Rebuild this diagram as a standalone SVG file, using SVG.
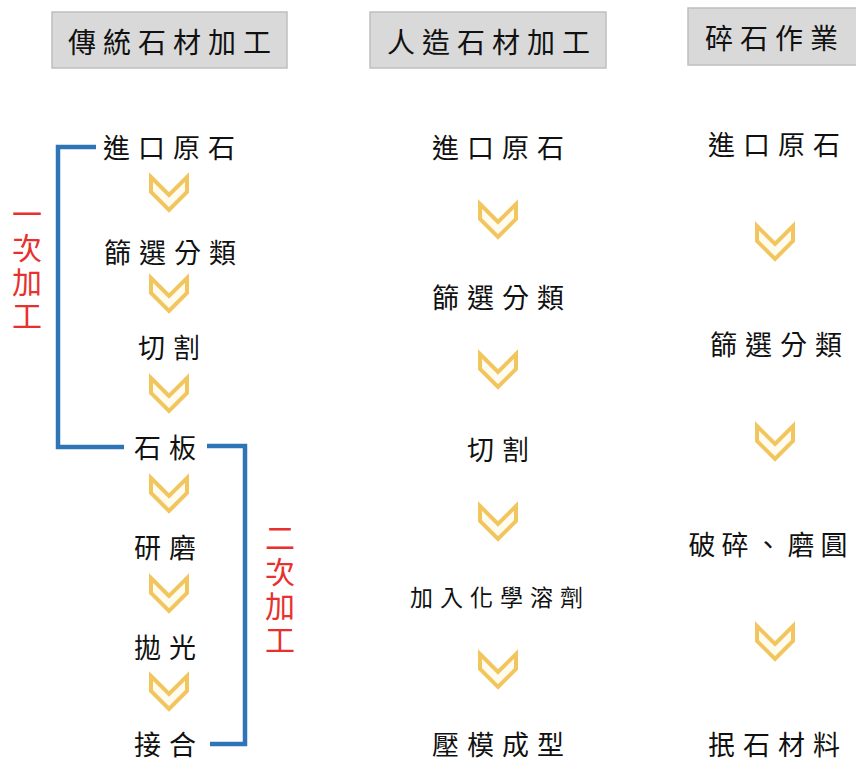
<svg xmlns="http://www.w3.org/2000/svg" width="856" height="761" viewBox="0 0 856 761">
<defs>
<style>
.hdr{fill:#d9d9d9;stroke:#bfbfbf;stroke-width:1.5}
.ht{font-family:"Noto Sans CJK TC","Noto Sans CJK SC",sans-serif;font-size:28px;fill:#111;text-anchor:middle;dominant-baseline:central;letter-spacing:7px}
.t{font-family:"Noto Sans CJK TC","Noto Sans CJK SC",sans-serif;font-size:27px;fill:#111;text-anchor:middle;dominant-baseline:central;letter-spacing:8px}
.ts{font-size:23px;letter-spacing:7px}
.tn{letter-spacing:6px}
.red{font-family:"Noto Sans CJK TC","Noto Sans CJK SC",sans-serif;font-size:30px;fill:#e8312f;writing-mode:vertical-rl;text-anchor:start;letter-spacing:4px}
.br{fill:none;stroke:#2e75b6;stroke-width:4.5}
.chev{fill:#fffbef;stroke:#f2c65e;stroke-width:4;stroke-linejoin:miter}
</style>
<polygon id="chv" points="-18,2 0,20 18,2 18,17 0,35 -18,17" class="chev"/>
</defs>
<rect width="856" height="761" fill="#ffffff"/>

<g id="header1"><rect class="hdr" x="52" y="12" width="235" height="56"/><text class="ht" x="173" y="41">傳統石材加工</text></g>
<g id="header2"><rect class="hdr" x="370" y="12" width="236" height="56"/><text class="ht" x="492" y="41">人造石材加工</text></g>
<g id="header3"><rect class="hdr" x="688" y="8" width="170" height="57"/><text class="ht" x="775" y="37">碎石作業</text></g>

<g id="brackets">
<polyline class="br" points="96,147 58,147 58,447 124,447"/>
<polyline class="br" points="207,446 245,446 245,744 210,744"/>
</g>
<g id="label1"><text class="red" x="27" y="199">一次加工</text></g>
<g id="label2"><text class="red" x="280" y="523">二次加工</text></g>

<g id="connectors">
<use href="#chv" x="169" y="175"/>
<use href="#chv" x="169" y="276"/>
<use href="#chv" x="169" y="376"/>
<use href="#chv" x="169" y="476"/>
<use href="#chv" x="169" y="576"/>
<use href="#chv" x="169" y="674"/>
<use href="#chv" x="498" y="202"/>
<use href="#chv" x="498" y="352"/>
<use href="#chv" x="498" y="504"/>
<use href="#chv" x="498" y="652"/>
<use href="#chv" x="775" y="224"/>
<use href="#chv" x="775" y="424"/>
<use href="#chv" x="775" y="624"/>
</g>

<g id="c1n1"><text class="t" x="173" y="146">進口原石</text></g>
<g id="c1n2"><text class="t" x="174" y="251">篩選分類</text></g>
<g id="c1n3"><text class="t" x="173" y="346">切割</text></g>
<g id="c1n4"><text class="t" x="169" y="446">石板</text></g>
<g id="c1n5"><text class="t" x="169" y="546">研磨</text></g>
<g id="c1n6"><text class="t" x="169" y="646">拋光</text></g>
<g id="c1n7"><text class="t" x="169" y="743">接合</text></g>

<g id="c2n1"><text class="t" x="502" y="146">進口原石</text></g>
<g id="c2n2"><text class="t" x="502" y="296">篩選分類</text></g>
<g id="c2n3"><text class="t" x="502" y="448">切割</text></g>
<g id="c2n4"><text class="t ts" x="500" y="596">加入化學溶劑</text></g>
<g id="c2n5"><text class="t" x="502" y="743">壓模成型</text></g>

<g id="c3n1"><text class="t" x="778" y="143">進口原石</text></g>
<g id="c3n2"><text class="t" x="780" y="343">篩選分類</text></g>
<g id="c3n3"><text class="t tn" x="771" y="543">破碎、磨圓</text></g>
<g id="c3n4"><text class="t" x="778" y="743">抿石材料</text></g>
</svg>
